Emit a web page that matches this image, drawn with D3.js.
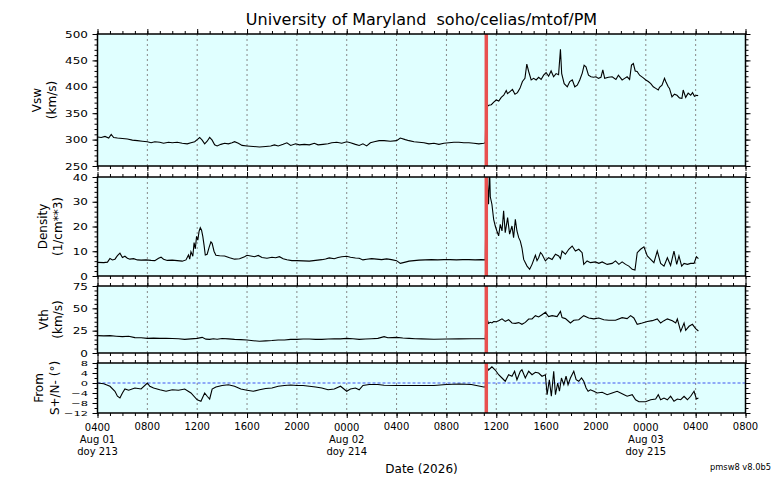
<!DOCTYPE html>
<html>
<head>
<meta charset="utf-8">
<script src="https://cdn.jsdelivr.net/npm/d3@7"></script>
<style>
  body { margin: 0; background: #fff; }
  svg { font-family: "DejaVu Sans", sans-serif; }
</style>
</head>
<body>
<svg id="chart" width="776" height="480"></svg>
<script>
// all times are hours after 2026-08-01 04:00 UT
const vswHours = [
  0,0.3,0.6,0.9,1.1,1.3,1.6,2.0,2.4,2.8, 3.2,3.6,4.0,4.3,4.6,5.0,5.3,5.7,6.0,6.4,
  6.8,7.2,7.5,7.8,8.0,8.2,8.4,8.6,8.8,9.0, 9.2,9.4,9.6,9.9,10.2,10.5,10.8,11.0,11.3,11.6,
  12.0,12.5,13.0,13.5,13.9,14.2,14.5,14.9,15.2,15.5, 15.9,16.2,16.6,17.0,17.4,17.7,18.1,18.5,18.8,19.2,
  19.6,20.0,20.3,20.7,21.0,21.3,21.6,21.9,22.2,22.6, 23.0,23.5,24.0,24.3,24.7,25.0,25.4,25.8,26.2,26.6,
  27.0,27.4,27.8,28.2,28.6,29.0,29.4,29.8,30.2,30.6, 31.0,31.12,
  // after the shock
  31.18,31.22,31.4,31.6,31.8,32.0,32.2,32.4,32.6,32.8, 32.9,33.1,33.3,33.5,33.7,33.9,34.1,34.3,34.45,34.6,
  34.8,35.0,35.2,35.4,35.6,35.8,36.0,36.2,36.4,36.6, 36.8,37.0,37.15,37.25,37.45,37.7,37.9,38.1,38.3,38.5,
  38.7,38.9,39.05,39.2,39.4,39.6,39.8,40.0,40.2,40.4, 40.55,40.7,41.0,41.3,41.6,41.8,42.1,42.3,42.5,42.7,
  42.85,43.0,43.15,43.3,43.5,43.8,44.0,44.2,44.4,44.6, 44.8,45.0,45.1,45.3,45.5,45.6,45.8,45.9,46.1,46.3,
  46.5,46.7,46.9,47.0,47.2,47.4,47.6,47.75,47.9,48.1, 48.2
];
const vswValues = [
  305,304,306,303,310,304,303,302,301,299, 298,297,296,294,296,295,293,295,294,295,
  293,292,294,296,300,304,299,292,297,304, 299,290,288,291,293,292,294,296,293,289,
  288,287,286,287,288,290,288,291,294,289, 292,290,291,290,293,290,291,292,294,295,
  293,296,294,291,289,292,288,294,296,298, 298,297,298,303,300,298,296,295,294,292,
  293,291,293,294,295,295,294,294,293,292, 293,294,
  376,362,365,366,371,375,373,380,384,393, 387,391,395,386,389,397,410,416,443,429,
  413,416,413,418,414,422,427,420,430,419, 425,423,471,425,406,400,410,413,400,403,
  413,426,441,438,422,419,418,419,416,418, 432,416,418,419,414,422,413,416,419,414,
  441,444,430,429,422,417,413,410,406,400, 397,394,399,403,416,410,400,397,381,386,
  384,379,378,394,380,388,384,389,382,384, 383
];

const densityHours = [
  0,0.5,0.8,1.0,1.2,1.4,1.6,1.8,2.0,2.2, 2.4,2.6,2.9,3.2,3.5,3.9,4.3,4.6,4.9,5.1,
  5.3,5.6,6.0,6.4,6.8,7.1,7.3,7.4,7.5,7.65, 7.75,7.85,7.95,8.05,8.15,8.25,8.35,8.45,8.55,8.65,
  8.8,8.95,9.1,9.2,9.35,9.5,9.8,10.2,10.6,11.0, 11.4,11.8,12.0,12.3,12.6,12.9,13.2,13.6,14.0,14.3,
  14.6,14.9,15.2,15.6,16.0,16.5,17.0,17.5,18.0,18.3, 18.6,19.0,19.3,19.6,20.0,20.3,20.7,21.0,21.3,21.6,
  22.0,22.4,22.8,23.2,23.6,24.0,24.3,24.7,25.0,25.4, 25.8,26.3,26.8,27.3,27.8,28.3,28.8,29.3,29.8,30.3,
  30.8,31.12,
  31.18,31.22,31.3,31.38,31.46,31.52,31.65,31.79,31.92,32.05, 32.19,32.32,32.46,32.59,32.72,32.91,33.07,33.26,33.39,33.53,
  33.66,33.8,33.93,34.06,34.2,34.47,34.68,34.87,35.14,35.27, 35.4,35.55,35.67,35.94,36.2,36.48,36.75,37.01,37.15,37.28,
  37.55,37.82,38.09,38.35,38.62,38.89,39.02,39.29,39.56,39.96, 40.23,40.5,40.9,41.3,41.57,41.84,42.1,42.38,42.64,42.91,
  43.13,43.31,43.58,43.85,44.12,44.39,44.65,44.92,45.19,45.46, 45.73,45.99,46.26,46.48,46.66,46.88,47.07,47.34,47.6,47.87,
  48.06,48.22
];
const densityValues = [
  5.5,5.4,5.6,7.1,6.5,6.8,8.2,9.2,7.5,8.0, 7.2,6.8,7.0,6.5,6.4,6.5,6.3,6.2,7.2,7.6,
  6.8,6.3,6.4,6.2,6.0,6.5,8.5,6.8,9.8,8.0, 13.5,11.0,16.0,14.5,18.0,19.5,18.5,16.0,12.5,8.5,
  8.8,11.5,13.8,13.2,10.0,8.4,8.2,8.1,7.4,6.8, 7.0,7.8,8.4,8.1,7.8,8.3,7.5,7.2,7.6,7.4,
  7.8,7.0,6.6,6.2,6.2,6.1,6.0,6.3,6.6,6.9, 7.3,7.0,7.5,7.8,8.0,7.6,7.3,7.2,6.5,6.8,
  7.0,6.8,6.6,6.9,6.6,6.2,5.1,5.6,6.0,6.2, 6.4,6.5,6.6,6.5,6.6,6.6,6.5,6.6,6.6,6.5,
  6.6,6.5,
  34,44,36.4,29,44,32,29,22.9,20.2,18.2, 16.2,20.9,18.2,26.3,17.5,23.6,16.9,20.2,15.5,22.9,
  18.2,15.5,14.1,11.4,6.7,4.0,2.7,4.7,8.4,6.2, 7.4,9.5,8.8,6.1,7.4,6.7,8.8,8.1,7.0,10.1,
  8.8,10.8,12.1,10.1,10.8,9.4,4.7,6.1,5.4,5.7, 5.1,5.7,4.7,5.1,6.1,4.7,5.7,4.7,4.0,2.7,
  2.4,9.4,10.8,11.8,8.1,6.7,5.4,10.1,5.1,4.0, 7.4,4.3,10.1,4.7,8.1,4.0,5.1,4.7,5.1,5.1,
  7.8,7.0
];

const vthHours = [
  0,0.5,1.0,1.5,2.0,2.5,3.0,3.5,4.0,4.5, 5.0,5.5,6.0,6.5,7.0,7.5,8.0,8.4,8.7,9.0,
  9.3,9.6,10.0,10.5,11.0,11.5,12.0,12.5,13.0,13.5, 14.0,14.5,15.0,15.5,16.0,16.5,17.0,17.5,18.0,18.5,
  19.0,19.5,20.0,20.5,21.0,21.5,22.0,22.5,23.0,23.3, 24.0,24.5,25.0,25.5,26.0,27.0,28.0,29.0,30.0,31.0,
  31.12,
  31.2,31.38,31.52,31.65,31.79,32.0,32.19,32.46,32.72,32.99, 33.26,33.53,33.8,34.06,34.33,34.6,34.87,35.14,35.4,35.67,
  35.94,36.2,36.48,36.88,37.15,37.28,37.55,37.95,38.22,38.62, 39.02,39.42,39.83,40.23,40.63,41.03,41.57,42.1,42.5,42.78,
  43.04,43.31,43.71,44.12,44.52,44.92,45.19,45.46,45.73,46.13, 46.4,46.53,46.8,47.07,47.2,47.47,47.74,48.0,48.22
];
const vthValues = [
  19.4,19.2,19.4,18.8,18.3,18.8,17.2,17.0,16.4,16.6, 16.4,16.5,16.2,16.0,15.3,15.8,16.4,17.5,15.5,15.3,
  16.0,15.4,16.2,15.8,15.3,15.0,14.6,13.8,13.1,13.6, 14.0,14.6,14.6,15.2,15.3,15.6,15.6,15.2,15.3,15.7,
  16.0,15.8,16.4,16.0,15.3,15.6,16.0,16.4,18.3,17.0, 17.5,16.8,16.4,16.0,15.8,15.4,15.6,15.8,16.0,16.0,
  15.7,
  40.7,33.2,34.3,33.6,35.3,35.0,36.0,38.2,35.3,37.3, 33.6,33.2,34.0,32.1,34.3,38.0,38.2,41.8,40.3,42.9,
  45.5,40.7,41.8,40.7,46.6,39.6,38.5,33.6,36.6,37.3, 41.8,39.2,38.2,39.2,37.3,36.6,36.6,39.6,38.5,41.8,
  39.2,32.1,33.6,35.3,36.2,38.2,33.6,36.2,38.2,36.0, 33.6,38.0,24.2,33.6,25.4,29.9,32.1,27.2,24.6
];

const fromHours = [
  0,0.5,1.0,1.4,1.6,1.8,2.0,2.2,2.5,3.0, 3.5,4.0,4.2,4.5,5.0,5.5,6.0,6.5,7.0,7.5,
  8.0,8.3,8.6,8.8,9.0,9.2,9.5,10.0,10.5,11.0, 11.5,12.0,12.5,13.0,13.5,14.0,14.5,15.0,15.5,16.0,
  16.5,17.0,17.5,18.0,18.5,19.0,19.5,20.0,20.3,20.7, 21.0,21.3,21.8,22.5,23.0,24.0,25.0,26.0,27.0,28.0,
  29.0,30.0,31.0,31.12,
  31.25,31.38,31.65,31.92,32.19,32.46,32.72,32.99,33.26,33.47, 33.66,33.93,34.06,34.33,34.6,34.87,35.14,35.4,35.67,35.94,
  36.08,36.26,36.42,36.61,36.75,36.93,37.07,37.23,37.42,37.6, 37.76,37.95,38.22,38.41,38.62,38.84,39.02,39.21,39.37,39.56,
  39.83,40.1,40.5,40.9,41.3,41.7,42.1,42.5,42.91,43.18, 43.45,43.98,44.39,44.79,45.0,45.19,45.46,45.73,45.99,46.26,
  46.53,46.8,47.07,47.34,47.6,47.87,48.06,48.22
];
const fromValues = [
  0,-0.3,-1.3,-3.3,-5.3,-6.0,-4.0,-2.4,-2.9,-2.0, -2.4,0,-1.3,-2.0,-2.7,-3.3,-2.7,-2.9,-2.4,-4.0,
  -6.7,-7.3,-4.0,-5.3,-6.4,-2.4,-1.6,-1.0,-0.7,-1.3, -2.4,-2.9,-3.3,-2.7,-2.2,-2.0,-1.3,-1.0,-0.8,-1.0,
  -1.0,-1.3,-1.6,-2.0,-2.7,-2.4,-1.3,-3.3,-2.4,-2.0, -2.7,-1.0,-0.6,-0.6,-0.9,-1.0,-1.0,-1.0,-1.0,-0.6,
  -0.4,-0.6,-1.6,-1.6,
  6.5,5.2,6.5,5.2,3.3,2.0,0.7,3.3,2.7,4.7, 1.3,4.7,5.3,2.0,4.7,3.3,4.3,4.0,2.7,3.3,
  -4.7,1.3,-5.3,4.7,-4.7,0,-3.3,2.0,-0.7,2.7, -0.7,2.0,4.7,1.3,0.7,2.0,0.7,-2.0,-3.3,-2.7,
  -3.3,-4.0,-3.7,-4.7,-4.0,-3.3,-4.3,-5.3,-4.7,-6.7, -7.5,-7.5,-6.7,-6.4,-4.7,-6.7,-6.0,-6.7,-5.3,-7.3,
  -6.4,-6.7,-5.3,-6.7,-5.3,-3.3,-6.4,-6.0
];

const shockHour = 31.2;
const dayLabelHours = [0, 20, 44];
const dayLabels = ["Aug 01", "Aug 02", "Aug 03"];
const doyLabels = ["doy 213", "doy 214", "doy 215"];

const start = Date.UTC(2026, 7, 1, 4);
const toDate = h => new Date(start + h * 36e5);

const svg = d3.select("#chart");
const left = 97.5, right = 745.5;

const x = d3.scaleUtc()
  .domain([toDate(0), toDate(52)])
  .range([left, right]);

const majorX = d3.range(0, 53, 4).map(toDate);
const minorX = d3.range(0, 53, 1).map(toDate);

// sy squeezes the tick labels vertically, as in the original plot
const panels = [
  {t: vswHours, v: vswValues, top: 34, bottom: 166, domain: [250, 500],
   major: d3.range(250, 501, 50), minor: d3.range(250, 501, 10),
   label: ["Vsw", "(km/s)"], labelX: [37, 52], fs: 12, sy: 0.78},
  {t: densityHours, v: densityValues, top: 177, bottom: 276, domain: [0, 40],
   major: d3.range(0, 41, 10), minor: d3.range(0, 41, 2),
   label: ["Density", "(1/cm**3)"], labelX: [43, 58], fs: 12, sy: 0.78},
  {t: vthHours, v: vthValues, top: 286, bottom: 353, domain: [0, 75],
   major: d3.range(0, 76, 25), minor: d3.range(0, 76, 5),
   label: ["Vth", "(km/s)"], labelX: [44, 58], fs: 12, sy: 0.78},
  {t: fromHours, v: fromValues, top: 363, bottom: 413, domain: [-12, 8],
   major: d3.range(-12, 9, 4), minor: d3.range(-12, 9, 2),
   label: ["From", "S+/N- (°)"], labelX: [39, 55], fs: 11.5, sy: 0.62, zero: true}
];

// title
svg.append("text")
  .attr("x", (left + right) / 2).attr("y", 25)
  .attr("text-anchor", "middle")
  .attr("font-size", 16)
  .text("University of Maryland\u00a0\u00a0soho/celias/mtof/PM");

panels.forEach((p, i) => {
  const y = d3.scaleLinear().domain(p.domain).range([p.bottom, p.top]);
  const g = svg.append("g");

  g.append("clipPath").attr("id", "clip" + i)
    .append("rect")
    .attr("x", left).attr("y", p.top)
    .attr("width", right - left).attr("height", p.bottom - p.top);

  g.append("rect")
    .attr("x", left).attr("y", p.top)
    .attr("width", right - left).attr("height", p.bottom - p.top)
    .attr("fill", "#e0ffff");

  // dotted vertical grid
  g.append("g").selectAll("line")
    .data(majorX.slice(1, -1))
    .join("line")
    .attr("x1", d => x(d)).attr("x2", d => x(d))
    .attr("y1", p.top).attr("y2", p.bottom)
    .attr("stroke", "#888").attr("stroke-width", 1)
    .attr("stroke-dasharray", "2,3");

  if (p.zero) {
    g.append("line")
      .attr("x1", left).attr("x2", right)
      .attr("y1", y(0)).attr("y2", y(0))
      .attr("stroke", "#3f55f0").attr("stroke-width", 1)
      .attr("stroke-dasharray", "3,2");
  }

  const line = d3.line()
    .x(d => x(toDate(d[0])))
    .y(d => y(d[1]));

  g.append("path")
    .datum(d3.zip(p.t, p.v))
    .attr("clip-path", "url(#clip" + i + ")")
    .attr("fill", "none")
    .attr("stroke", "#000")
    .attr("stroke-width", 1.1)
    .attr("d", line);

  // shock marker
  g.append("line")
    .attr("x1", x(toDate(shockHour))).attr("x2", x(toDate(shockHour)))
    .attr("y1", p.top).attr("y2", p.bottom)
    .attr("stroke", "#e8504f").attr("stroke-width", 3.5);

  g.append("rect")
    .attr("x", left).attr("y", p.top)
    .attr("width", right - left).attr("height", p.bottom - p.top)
    .attr("fill", "none").attr("stroke", "#000").attr("stroke-width", 1.5);

  const noDomain = s => s.select(".domain").remove();

  // y axes, left with labels, right plain
  g.append("g").attr("transform", `translate(${left},0)`)
    .call(d3.axisLeft(y).tickValues(p.minor).tickSize(3).tickFormat(""))
    .call(noDomain);
  g.append("g").attr("transform", `translate(${left},0)`)
    .call(d3.axisLeft(y).tickValues(p.major).tickSize(5).tickPadding(4.5))
    .call(noDomain)
    .call(s => s.selectAll("text")
      .attr("font-size", p.fs)
      .attr("font-family", "DejaVu Sans")
      .attr("fill", "#000")
      .attr("transform", `scale(1,${p.sy})`));
  g.append("g").attr("transform", `translate(${right},0)`)
    .call(d3.axisRight(y).tickValues(p.minor).tickSize(3).tickFormat(""))
    .call(noDomain);
  g.append("g").attr("transform", `translate(${right},0)`)
    .call(d3.axisRight(y).tickValues(p.major).tickSize(5).tickFormat(""))
    .call(noDomain);

  // x ticks on top and bottom edges
  [[d3.axisTop, p.top], [d3.axisBottom, p.bottom]].forEach(([ax, yy]) => {
    g.append("g").attr("transform", `translate(0,${yy})`)
      .call(ax(x).tickValues(minorX).tickSize(3).tickFormat(""))
      .call(noDomain);
    g.append("g").attr("transform", `translate(0,${yy})`)
      .call(ax(x).tickValues(majorX).tickSize(5).tickFormat(""))
      .call(noDomain);
  });

  // axis title, two rotated lines
  p.label.forEach((txt, k) => {
    g.append("text")
      .attr("transform", `translate(${p.labelX[k]},${(p.top + p.bottom) / 2}) rotate(-90)`)
      .attr("text-anchor", "middle")
      .attr("dominant-baseline", "central")
      .attr("font-size", 12)
      .text(txt);
  });
});

// bottom time labels
const hourFmt = d3.utcFormat("%H%M");
const xl = svg.append("g").attr("font-size", 10).attr("text-anchor", "middle");
majorX.forEach(d => {
  const h = (d - start) / 36e5;
  const k = dayLabelHours.indexOf(h);
  const t = xl.append("text").attr("x", x(d)).attr("y", k < 0 ? 430 : 430.7);
  t.append("tspan").attr("x", x(d)).text(hourFmt(d));
  if (k >= 0) {
    t.append("tspan").attr("x", x(d)).attr("dy", 12.2).text(dayLabels[k]);
    t.append("tspan").attr("x", x(d)).attr("dy", 12.2).text(doyLabels[k]);
  }
});

svg.append("text")
  .attr("x", (left + right) / 2).attr("y", 473)
  .attr("text-anchor", "middle")
  .attr("font-size", 12)
  .text("Date (2026)");

svg.append("text")
  .attr("x", 771).attr("y", 470)
  .attr("text-anchor", "end")
  .attr("font-size", 8.3)
  .text("pmsw8 v8.0b5");
</script>
</body>
</html>
